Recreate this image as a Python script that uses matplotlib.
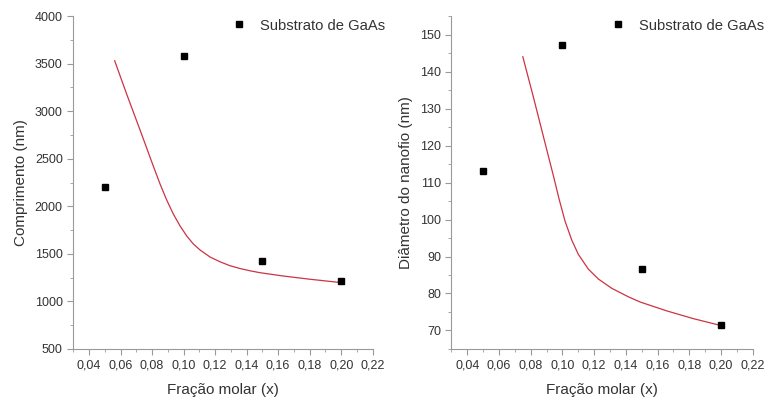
import matplotlib.pyplot as plt
from matplotlib.ticker import MultipleLocator, FuncFormatter

plt.rcParams['font.family'] = ['Liberation Sans', 'DejaVu Sans']

# medidas (pontos)
x_pts = [0.05, 0.10, 0.15, 0.20]
comp_pts = [2200, 3575, 1430, 1215]
diam_pts = [113.0, 147.2, 86.5, 71.6]

# curva ajustada - comprimento
comp_fit_x = [0.0563, 0.0639, 0.0724, 0.0808, 0.0851, 0.0893, 0.0935, 0.0978,
              0.1020, 0.1062, 0.1105, 0.1168, 0.1231, 0.1295, 0.1358, 0.1422,
              0.1485, 0.1633, 0.1803, 0.2004]
comp_fit_y = [3530, 3180, 2802, 2423, 2234, 2066, 1919, 1793,
              1688, 1604, 1540, 1467, 1417, 1375, 1346, 1322,
              1302, 1267, 1233, 1197]

# curva ajustada - diametro
diam_fit_x = [0.0750, 0.0816, 0.0880, 0.0943, 0.0979, 0.1016, 0.1059, 0.1100,
              0.1163, 0.1227, 0.1311, 0.1416, 0.1490, 0.1658, 0.1826, 0.1994]
diam_fit_y = [144.0, 133.2, 122.4, 111.8, 105.5, 99.6, 94.4, 90.6,
              86.6, 83.9, 81.4, 79.1, 77.7, 75.3, 73.2, 71.4]

fig = plt.figure(figsize=(7.69, 4.01), dpi=100)
ax1 = fig.add_axes([0.0952, 0.1297, 0.3895, 0.8303])
ax2 = fig.add_axes([0.5871, 0.1297, 0.3917, 0.8303])

comma = FuncFormatter(lambda v, p: f"{v:.2f}".replace('.', ','))
spine_col = '#9a9a9a'
txt_col = '#333333'


def style(ax):
    for s in ['top', 'right']:
        ax.spines[s].set_visible(False)
    for s in ['left', 'bottom']:
        ax.spines[s].set_color(spine_col)
        ax.spines[s].set_linewidth(0.8)
    ax.tick_params(which='major', direction='out', length=4, width=0.8,
                   color=spine_col, labelcolor=txt_col, labelsize=9)
    ax.tick_params(which='minor', direction='out', length=2, width=0.6,
                   color=spine_col)
    ax.set_xlim(0.03, 0.22)
    ax.xaxis.set_major_locator(MultipleLocator(0.02))
    ax.xaxis.set_minor_locator(MultipleLocator(0.01))
    ax.xaxis.set_major_formatter(comma)
    ax.set_xlabel('Fração molar (x)', fontsize=11, color=txt_col, labelpad=8)


def legenda(ax):
    ax.legend(loc='center left', bbox_to_anchor=(0.48, 0.9715), frameon=False,
              fontsize=10.6, handletextpad=0.8, handlelength=1.2,
              borderpad=0.4, labelcolor=txt_col)


style(ax1)
ax1.plot(comp_fit_x, comp_fit_y, color='#cc3344', lw=0.9)
ax1.plot(x_pts, comp_pts, 's', color='black', ms=5, label='Substrato de GaAs')
ax1.set_ylim(500, 4000)
ax1.yaxis.set_major_locator(MultipleLocator(500))
ax1.yaxis.set_minor_locator(MultipleLocator(250))
ax1.set_ylabel('Comprimento (nm)', fontsize=11, color=txt_col, labelpad=5)
legenda(ax1)

style(ax2)
ax2.plot(diam_fit_x, diam_fit_y, color='#cc3344', lw=0.9)
ax2.plot(x_pts, diam_pts, 's', color='black', ms=5, label='Substrato de GaAs')
ax2.set_ylim(65, 155)
ax2.set_yticks(range(70, 151, 10))
ax2.yaxis.set_minor_locator(MultipleLocator(5))
ax2.set_ylabel('Diâmetro do nanofio (nm)', fontsize=11, color=txt_col, labelpad=5)
legenda(ax2)

fig.savefig('out.png', dpi=100)
